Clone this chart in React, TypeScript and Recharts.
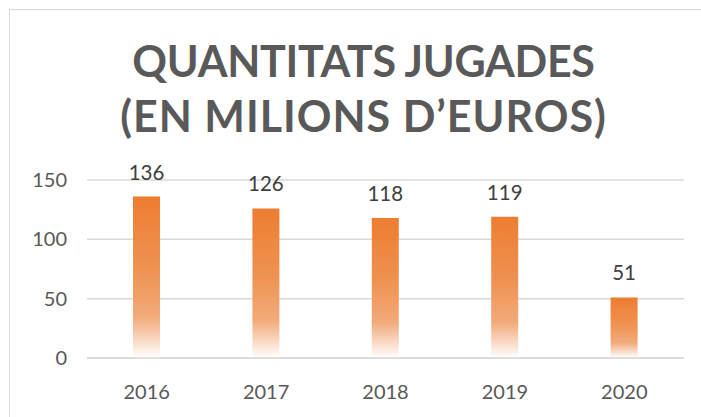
import React from 'react'
import { BarChart, Bar, XAxis, YAxis, CartesianGrid, LabelList } from 'recharts'

const years = ['2016', '2017', '2018', '2019', '2020']
const amounts = [136, 126, 118, 119, 51]
const yTicks = [0, 50, 100, 150]

const data = years.map((year, i) => ({ year, value: amounts[i] }))

const FONT = 'Lato, "Open Sans", sans-serif'

export default function App() {
  return (
    <div style={{ position: 'absolute', left: 0, top: 0, width: 701, height: 417, overflow: 'hidden', background: '#fff' }}>
      {/* chart frame, cut off on the right and bottom */}
      <div style={{ position: 'absolute', left: 9, top: 9, width: 740, height: 460, border: '1.5px solid #d9d9d9' }} />
      <div style={{
        position: 'absolute', left: 0, top: 33, width: 727, textAlign: 'center',
        fontFamily: FONT, fontWeight: 700, fontSize: 43, lineHeight: '55px', color: '#595959',
      }}>
        <div style={{ letterSpacing: -0.3 }}>QUANTITATS JUGADES</div>
        <div style={{ letterSpacing: 1 }}>(EN MILIONS D’EUROS)</div>
      </div>
      <div style={{ position: 'absolute', left: 0, top: 0 }}>
        <BarChart width={701} height={417} data={data} margin={{ top: 180, right: 17, bottom: 0, left: 0 }}>
          <defs>
            <linearGradient id="barFade" x1="0" y1="0" x2="0" y2="1">
              <stop offset="0%" stopColor="#ED7D31" />
              <stop offset="45%" stopColor="#EF9252" />
              <stop offset="75%" stopColor="#F2AB7B" />
              <stop offset="100%" stopColor="#FFFFFF" />
            </linearGradient>
          </defs>
          <CartesianGrid vertical={false} stroke="#d9d9d9" strokeWidth={1.5} />
          <XAxis
            dataKey="year"
            height={59}
            tickLine={false}
            axisLine={{ stroke: '#d9d9d9', strokeWidth: 1.5 }}
            tickMargin={21}
            tick={{ fill: '#595959', fontSize: 20, fontFamily: FONT }}
          />
          <YAxis
            width={87}
            domain={[0, 150]}
            ticks={yTicks}
            axisLine={false}
            tickLine={false}
            tickMargin={14}
            tick={{ fill: '#595959', fontSize: 20, fontFamily: FONT }}
          />
          <Bar dataKey="value" fill="url(#barFade)" barSize={27} isAnimationActive={false}>
            <LabelList dataKey="value" position="top" offset={17} fill="#404040" fontSize={20.5} fontFamily={FONT} />
          </Bar>
        </BarChart>
      </div>
    </div>
  )
}
